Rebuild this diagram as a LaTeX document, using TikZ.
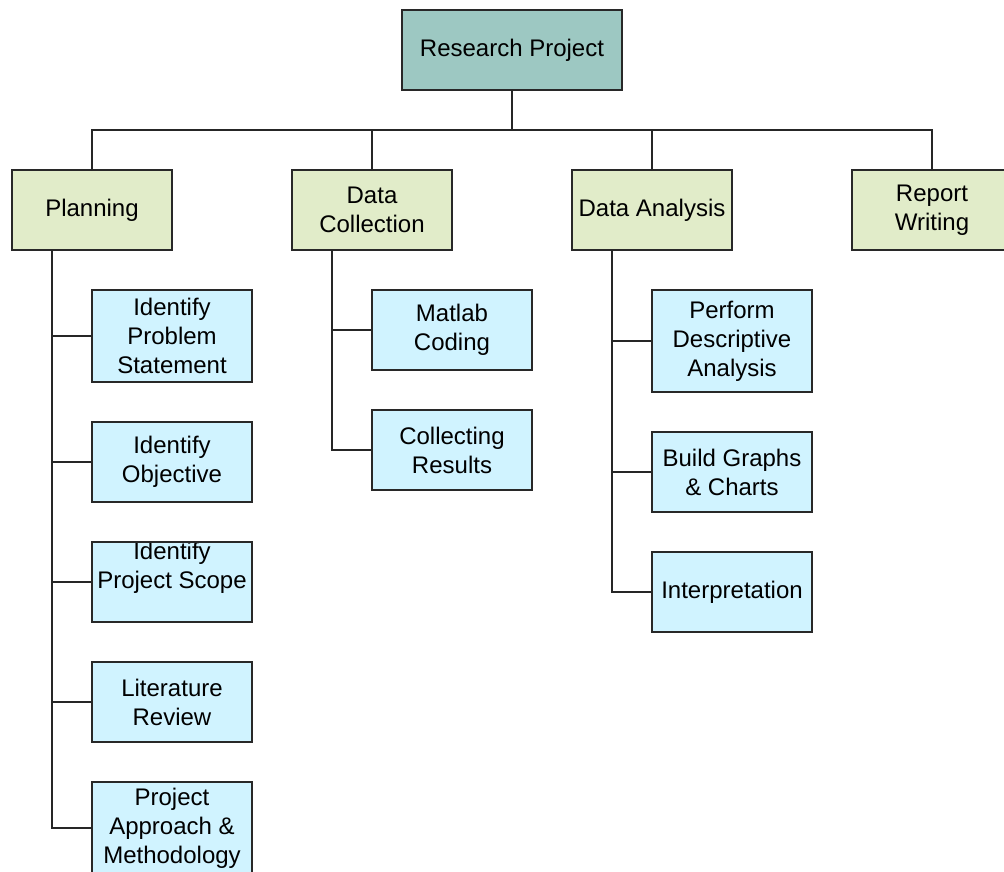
\documentclass[tikz,border=0pt]{standalone}
\usepackage{fontspec}
\setmainfont{Liberation Sans}
\begin{document}
\begin{tikzpicture}[x=1pt,y=-1pt,
  box/.style={draw={rgb,255:red,40;green,40;blue,40}, line width=1.5pt, inner sep=0pt, outer sep=0pt, align=center,
    font=\fontsize{24}{29}\selectfont, minimum width=160pt, minimum height=80pt},
  rootbox/.style={box, fill={rgb,255:red,157;green,200;blue,194}, minimum width=220pt},
  midbox/.style={box, fill={rgb,255:red,225;green,236;blue,201}},
  leafbox/.style={box, fill={rgb,255:red,208;green,243;blue,255}},
  conn/.style={draw=black!85, line width=1.4pt}]
\useasboundingbox (0,0) rectangle (1004,872);
\clip (0,0) rectangle (1004,872);
% root
\node[rootbox] (root) at (512,50) {Research Project};
% level 1
\node[midbox] (pl) at (92,210) {Planning};
\node[midbox] (dc) at (372,210) {Data\\Collection};
\node[midbox] (da) at (652,210) {Data Analysis};
\node[midbox] (rw) at (932,210) {Report\\Writing};
\coordinate (bus) at (512,130);
\draw[conn] (root.south) -- (bus);
\foreach \n in {pl,dc,da,rw} \draw[conn] (\n.north) |- (bus);
% planning leaves
\node[leafbox, minimum height=92pt] (p1) at (172,336) {Identify\\Problem\\Statement};
\node[leafbox] (p2) at (172,462) {Identify\\Objective};
\node[leafbox] (p3) at (172,582) {};
\begin{scope}
  \clip (p3.north west) rectangle (p3.south east);
  \node[font=\fontsize{24}{29}\selectfont, anchor=base, inner sep=0pt] (p3a) at (172,559) {Identify};
  \node[font=\fontsize{24}{29}\selectfont, anchor=base, inner sep=0pt] (p3b) at (172,588) {Project Scope};
\end{scope}
\draw[draw={rgb,255:red,40;green,40;blue,40}, line width=1.5pt] (p3.north west) rectangle (p3.south east);
\node[leafbox] (p4) at (172,702) {Literature\\Review};
\node[leafbox, minimum height=92pt] (p5) at (172,828) {Project\\Approach \&\\Methodology};
\coordinate (plt) at (52,250);
\draw[conn] (plt) |- (p5.west);
\foreach \n in {p1,p2,p3,p4} \draw[conn] (\n.west) -- (\n.west -| plt);
% data collection leaves
\node[leafbox] (c1) at (452,330) {Matlab\\Coding};
\node[leafbox] (c2) at (452,450) {Collecting\\Results};
\coordinate (dct) at (332,250);
\draw[conn] (dct) |- (c2.west);
\draw[conn] (c1.west) -- (c1.west -| dct);
% data analysis leaves
\node[leafbox, minimum height=102pt] (a1) at (732,341) {Perform\\Descriptive\\Analysis};
\node[leafbox] (a2) at (732,472) {Build Graphs\\\& Charts};
\node[leafbox] (a3) at (732,592) {Interpretation};
\coordinate (dat) at (612,250);
\draw[conn] (dat) |- (a3.west);
\foreach \n in {a1,a2} \draw[conn] (\n.west) -- (\n.west -| dat);
\end{tikzpicture}
\end{document}
